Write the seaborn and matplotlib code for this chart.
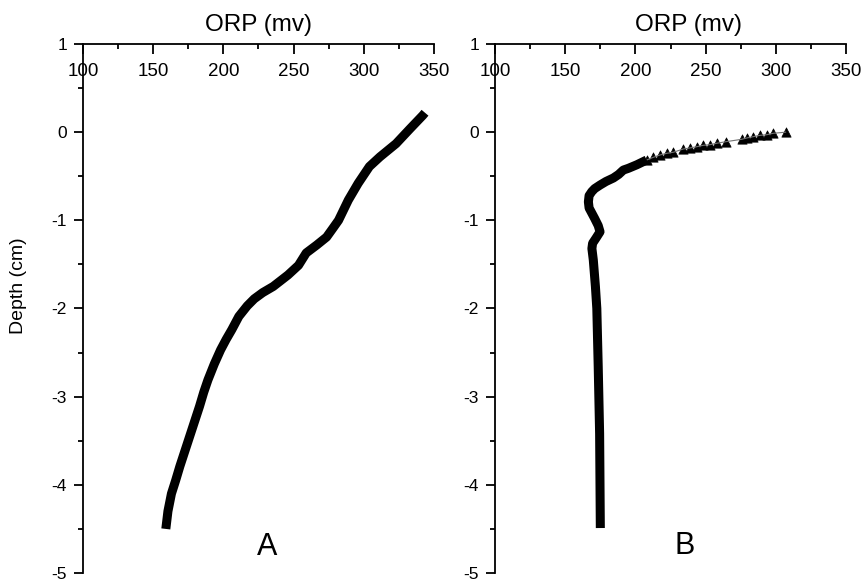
import numpy as np
import pandas as pd
import matplotlib
matplotlib.use("Agg")
import matplotlib.pyplot as plt
import seaborn as sns
from matplotlib.ticker import MultipleLocator

# ORP profile A (dense record)
orp_a = [343.6, 342, 333, 323, 311.5, 304, 296, 289, 282, 278, 273.5, 266.5,
         259, 253.5, 246, 235.5, 228, 222, 217, 211, 206, 202, 198, 193.5,
         189, 186, 183, 179.5, 176, 172.5, 169, 166, 163, 160.5, 159]
depth_a = [0.22, 0.19, 0.04, -0.13, -0.28, -0.39, -0.58, -0.77, -1.0, -1.09,
           -1.19, -1.28, -1.37, -1.51, -1.62, -1.75, -1.82, -1.89, -1.97,
           -2.09, -2.24, -2.35, -2.47, -2.63, -2.81, -2.95, -3.11, -3.28,
           -3.45, -3.62, -3.79, -3.95, -4.1, -4.3, -4.5]

# ORP profile B - sparse points near the surface (triangles)
orp_b_top = [307.1, 298.2, 293.5, 288.8, 284.0, 279.3, 275.7, 264.5, 257.9,
             253.1, 248.4, 243.7, 238.9, 234.1, 227, 222.3, 217.5, 212.8, 208]
depth_b_top = [0.0, -0.013, -0.029, -0.036, -0.051, -0.066, -0.081, -0.108,
               -0.126, -0.142, -0.149, -0.165, -0.179, -0.191, -0.228, -0.24,
               -0.259, -0.285, -0.316]

# ORP profile B - dense part below
orp_b = [208, 201, 195, 191.4, 188, 184.3, 179, 174.8, 171, 168.9, 167,
         166.5, 167, 169, 171, 173.5, 174.8, 172, 169.5, 169, 170, 171.5,
         172.5, 173.5, 174.5, 175]
depth_b = [-0.316, -0.37, -0.41, -0.43, -0.48, -0.52, -0.56, -0.60, -0.64,
           -0.675, -0.72, -0.79, -0.86, -0.92, -0.98, -1.06, -1.13, -1.2,
           -1.26, -1.32, -1.45, -1.75, -2.0, -2.66, -3.42, -4.49]

sns.set_style("ticks", {'axes.edgecolor': 'black', 'text.color': 'black',
                        'xtick.color': 'black', 'ytick.color': 'black',
                        'axes.labelcolor': 'black'})
plt.rcParams['font.family'] = ['Liberation Sans', 'DejaVu Sans']
plt.rcParams['axes.unicode_minus'] = False

fig = plt.figure(figsize=(8.68, 5.88), dpi=100)
axA = fig.add_axes([0.0956, 0.0255, 0.4044, 0.8997])
axB = fig.add_axes([0.5703, 0.0255, 0.4044, 0.8997])

line_kw = dict(color='black', lw=6.5, sort=False, estimator=None,
               solid_capstyle='butt', solid_joinstyle='round')

sns.lineplot(x=orp_a, y=depth_a, ax=axA, **line_kw)

sns.lineplot(x=orp_b_top, y=depth_b_top, ax=axB, color='0.45', lw=0.8,
             sort=False, estimator=None)
sns.scatterplot(x=orp_b_top, y=depth_b_top, ax=axB, marker='^', s=45,
                color='black', edgecolor='black', linewidth=0.5)
sns.lineplot(x=orp_b, y=depth_b, ax=axB, **line_kw)

for ax, lab_x in [(axA, 0.5), (axB, 0.55)]:
    ax.set_xlim(100, 350)
    ax.set_ylim(-5, 1)
    ax.xaxis.set_major_locator(MultipleLocator(50))
    ax.xaxis.set_minor_locator(MultipleLocator(25))
    ax.yaxis.set_major_locator(MultipleLocator(1))
    ax.yaxis.set_minor_locator(MultipleLocator(0.5))
    sns.despine(ax=ax, top=False, right=True, bottom=True, left=False)
    for sp in ['top', 'left']:
        ax.spines[sp].set_linewidth(1.3)
    ax.tick_params(axis='x', which='both', direction='in', top=True,
                   bottom=False, labeltop=True, labelbottom=False,
                   labelsize=13.5, pad=-26, width=1.3)
    ax.tick_params(axis='x', which='major', length=7)
    ax.tick_params(axis='x', which='minor', length=3.5)
    ax.tick_params(axis='y', which='both', direction='out', left=True,
                   labelsize=12.5, pad=5, width=1.3)
    ax.tick_params(axis='y', which='major', length=6.5)
    ax.tick_params(axis='y', which='minor', length=3.5)
    ax.xaxis.set_label_position('top')
    ax.set_xlabel('ORP (mv)', fontsize=17.5)
    ax.xaxis.label.set_va('center')
    ax.xaxis.set_label_coords(lab_x, 1.036)
    ax.set_ylabel('')
    ax.set_facecolor('white')

axA.set_ylabel('Depth (cm)', fontsize=14)
axA.yaxis.set_label_coords(-0.185, 0.544)
axA.yaxis.label.set_va('center')

axA.text(231, -4.71, 'A', fontsize=22, ha='center', va='center')
axB.text(235, -4.69, 'B', fontsize=22, ha='center', va='center')

fig.savefig('out.png', dpi=100, facecolor='white')
